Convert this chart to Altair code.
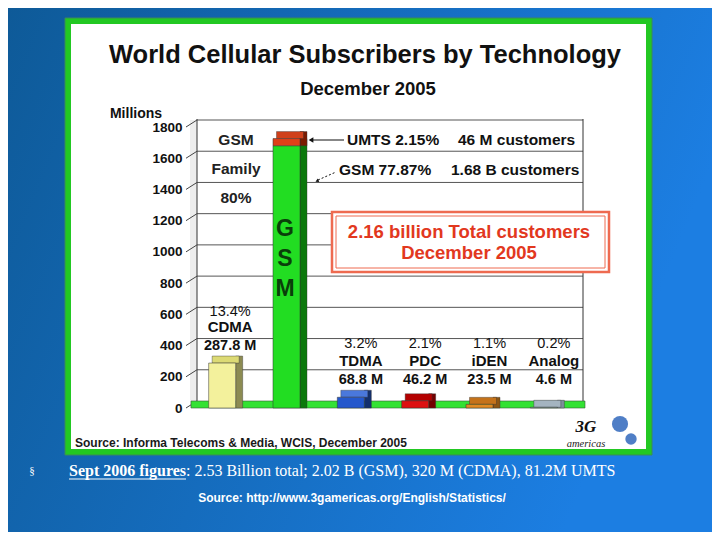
import altair as alt
import pandas as pd

# ---------------- data ----------------
techs = ["CDMA", "GSM", "TDMA", "PDC", "iDEN", "Analog"]
subs_m = [287.8, 1680.0, 68.8, 46.2, 23.5, 4.6]          # millions of subscribers
shares = ["13.4%", "77.87%", "3.2%", "2.1%", "1.1%", "0.2%"]
umts_m = 46.0
umts_share = "2.15%"
gsm_family_share = "80%"
y_ticks = [0, 200, 400, 600, 800, 1000, 1200, 1400, 1600, 1800]
sept_2006 = ": 2.53 Billion total; 2.02 B (GSM), 320 M (CDMA), 81.2M UMTS"

# ---------------- styles ----------------
front_col = ["#f3f19c", "#22dd22", "#2458cc", "#dd1111", "#e08a22", "#b4c2cc"]
side_col = ["#8c8b52", "#0b780b", "#13306e", "#720000", "#8c5512", "#7f8f9c"]
top_col = ["#dcda74", "#d0401a", "#4a78dc", "#b40000", "#c4721a", "#a4b4c0"]
umts_front, umts_side = "#e04018", "#7a1a00"

SANS = "Liberation Sans, Arial, sans-serif"
SERIF = "Liberation Serif, Times New Roman, serif"
OX, OY = 190, 127          # image position of the plot origin
W, H = 386, 281
D = 7                      # 3D depth in px

# ---------------- tables ----------------
seg_rows = []
top_rows = []
for i, t in enumerate(techs):
    seg_rows.append(dict(tech=t, start=0.0, end=subs_m[i], front=front_col[i], side=side_col[i]))
    top = subs_m[i]
    if t == "GSM":
        seg_rows.append(dict(tech=t, start=subs_m[i], end=subs_m[i] + umts_m, front=umts_front, side=umts_side))
        top = subs_m[i] + umts_m
    top_rows.append(dict(tech=t, top=top, topc=top_col[i]))
seg = pd.DataFrame(seg_rows)
tops = pd.DataFrame(top_rows)
lab = pd.DataFrame(dict(tech=techs, value=subs_m, share=shares,
                        vlabel=[f"{v} M" for v in subs_m]))
ticks = pd.DataFrame(dict(v=y_ticks))
total_b = (sum(subs_m) + umts_m) / 1000.0
one = pd.DataFrame({"k": [0]})

yscale = alt.Scale(domain=[0, 1800], nice=False)
yaxis = alt.Axis(values=y_ticks, format="d", ticks=False, domain=False, grid=False, title=None,
                 labelFont=SANS, labelFontSize=13.5, labelFontWeight="bold",
                 labelColor="#111", labelPadding=8, zindex=1)
xscale = alt.Scale(domain=techs, paddingInner=0.58, paddingOuter=0.29)


def X():
    return alt.X("tech:N", scale=xscale, axis=None)


def Y(f):
    return alt.Y(f"{f}:Q", scale=yscale, axis=yaxis)


def px(x):
    return alt.value(x - OX)


def py(y):
    return alt.value(y - OY)


def box(x0, x1, y0, y1, **kw):
    return alt.Chart(one).mark_rect(**kw).encode(x=px(x0), x2=px(x1), y=py(y0), y2=py(y1))


def T(text, x, y, size, color="#111", weight="bold", align="center", font=SANS, **kw):
    return alt.Chart(one).mark_text(text=text, fontSize=size, fontWeight=weight, color=color,
                                    align=align, baseline="middle", font=font, **kw
                                    ).encode(x=px(x), y=py(y))


layers = []
# slide background
grad = alt.LinearGradient(gradient="linear", x1=0, x2=1, y1=0, y2=0.3,
                          stops=[alt.GradientStop(offset=0, color="#0e5a98"),
                                 alt.GradientStop(offset=1, color="#1c7ee2")])
layers.append(box(8, 712, 8, 532, color=grad))
# green frame and white panel
layers.append(box(65, 652, 18, 455, color="#22c822", stroke="#3a8a5a", strokeWidth=1))
layers.append(box(71, 646, 24, 449, color="#ffffff"))

# titles
layers.append(T("World Cellular Subscribers by Technology", 365, 55, 25.5))
layers.append(T("December 2005", 368, 89, 18.5))
layers.append(T("Millions", 136, 114, 14))

# left wall (light) and floor
layers.append(box(190, 197, 120, 408, color="#ededed"))
# back wall gridlines
layers.append(alt.Chart(ticks).transform_filter("datum.v > 0").mark_rule(
    color="#555", strokeWidth=1, yOffset=-D).encode(x=alt.value(D), x2=alt.value(W + D), y=Y("v")))
# wall borders
layers.append(alt.Chart(one).mark_rule(color="#333", strokeWidth=1).encode(
    x=alt.value(D), y=alt.value(-D - 1), y2=alt.value(H - D)))
layers.append(alt.Chart(one).mark_rule(color="#333", strokeWidth=1).encode(
    x=alt.value(W + D), y=alt.value(-D - 1), y2=alt.value(H - D)))
# diagonal tick marks
layers.append(alt.Chart(ticks).mark_rule(color="#444", strokeWidth=1, y2Offset=-D).encode(
    x=alt.value(-4), x2=alt.value(D), y=Y("v"), y2=alt.Y2("v")))
# floor
layers.append(box(191, 585, 401, 408, color="#33e233", stroke="#3a5a3a", strokeWidth=0.6))

# 3D bars: side faces, top faces, front faces
layers.append(alt.Chart(seg).mark_bar(width=D, xOffset=13.5 + D / 2, yOffset=-D,
                                      stroke="#333", strokeWidth=0.4).encode(
    x=X(), y=Y("end"), y2=alt.Y2("start"), color=alt.Color("side:N", scale=None)))
layers.append(alt.Chart(tops).mark_bar(width=27, xOffset=D / 2, yOffset=-D, y2Offset=0,
                                       stroke="#333", strokeWidth=0.4).encode(
    x=X(), y=Y("top"), y2=alt.Y2("top"), color=alt.Color("topc:N", scale=None)))
layers.append(alt.Chart(seg).mark_bar(stroke="#333", strokeWidth=0.5).encode(
    x=X(), y=Y("end"), y2=alt.Y2("start"), color=alt.Color("front:N", scale=None)))

# G S M letters on the bar
for ch, yy in zip("GSM", [229, 259, 289]):
    layers.append(T(ch, 285, yy, 23, color="#0a3f0a"))

# GSM family note
layers.append(T("GSM", 236, 140, 15.5, color="#222"))
layers.append(T("Family", 236, 169, 15.5, color="#222"))
layers.append(T(gsm_family_share, 236, 198, 15.5, color="#222"))

# UMTS / GSM callouts
layers.append(alt.Chart(one).mark_rule(color="#111", strokeWidth=1.2).encode(
    x=px(311), x2=px(344), y=py(140)))
layers.append(alt.Chart(one).mark_point(shape="triangle-left", filled=True, color="#111",
                                        size=30, opacity=1).encode(x=px(311), y=py(140)))
layers.append(T(f"UMTS {umts_share}", 347, 140, 15.5, align="left"))
layers.append(T(f"{umts_m:.0f} M customers", 458, 140, 15.5, align="left"))
layers.append(alt.Chart(one).mark_rule(color="#111", strokeWidth=1, strokeDash=[2, 2]).encode(
    x=px(318), x2=px(336), y=py(180), y2=py(172)))
layers.append(alt.Chart(one).mark_point(shape="triangle-left", filled=True, color="#111",
                                        size=14, opacity=1, angle=335).encode(x=px(317), y=py(181)))
layers.append(T(f"GSM {shares[1]}", 339, 170, 15.5, align="left"))
layers.append(T(f"{subs_m[1] / 1000:.2f} B customers", 451, 170, 15.5, align="left"))

# total box
layers.append(box(332, 609, 212, 272, color="#ffffff", stroke="#ee6a50", strokeWidth=2.5))
layers.append(box(336, 605, 216, 268, color="#ffffff", stroke="#ee6a50", strokeWidth=1))
layers.append(T(f"{total_b:.2f} billion Total customers", 469, 232, 18.5, color="#e2381e"))
layers.append(T("December 2005", 469, 253, 18.5, color="#e2381e"))

# CDMA labels (above its bar)
cdma = alt.Chart(lab).transform_filter("datum.tech == 'CDMA'")
layers.append(cdma.mark_text(dx=8, dy=-51, fontSize=14.5, font=SANS, color="#111").encode(
    x=X(), y=Y("value"), text="share:N"))
layers.append(cdma.mark_text(dx=8, dy=-36, fontSize=15, font=SANS, fontWeight="bold", color="#111").encode(
    x=X(), y=Y("value"), text="tech:N"))
layers.append(cdma.mark_text(dx=8, dy=-17, fontSize=14.5, font=SANS, fontWeight="bold", color="#111").encode(
    x=X(), y=Y("value"), text="vlabel:N"))

# small technologies labels
small = alt.Chart(lab).transform_filter("datum.tech != 'CDMA' && datum.tech != 'GSM'")
layers.append(small.mark_text(dx=10, fontSize=14.5, font=SANS, color="#111").encode(
    x=X(), y=py(344), text="share:N"))
layers.append(small.mark_text(dx=10, fontSize=15, font=SANS, fontWeight="bold", color="#111").encode(
    x=X(), y=py(361), text="tech:N"))
layers.append(small.mark_text(dx=10, fontSize=14.5, font=SANS, fontWeight="bold", color="#111").encode(
    x=X(), y=py(380), text="vlabel:N"))

# source inside the panel
layers.append(T("Source: Informa Telecoms & Media, WCIS, December 2005", 75, 443, 12,
                color="#1a1a1a", align="left"))

# 3G americas logo
layers.append(alt.Chart(one).mark_point(shape="circle", filled=True, color="#3c70c0",
                                        size=260, opacity=0.9).encode(x=px(620), y=py(424)))
layers.append(alt.Chart(one).mark_point(shape="circle", filled=True, color="#3c70c0",
                                        size=130, opacity=0.9).encode(x=px(631), y=py(439)))
layers.append(T("3G", 586, 427, 17, color="#111", font=SERIF, fontStyle="italic"))
layers.append(T("americas", 586, 444, 10.5, color="#222", weight="normal", font=SERIF,
                fontStyle="italic"))

# slide text below the panel
layers.append(T("§", 32, 471, 11, color="#ffffff", weight="normal", font=SERIF))
layers.append(T("Sept 2006 figures", 69, 471, 16, color="#ffffff", align="left", font=SERIF))
layers.append(alt.Chart(one).mark_rule(color="#ffffff", strokeWidth=1.2).encode(
    x=px(69), x2=px(186), y=py(479)))
layers.append(T(sept_2006, 186, 471, 16, color="#ffffff", weight="normal", align="left", font=SERIF))
layers.append(T("Source: http://www.3gamericas.org/English/Statistics/", 352, 498, 12,
                color="#ffffff"))

chart = alt.layer(*layers).properties(
    width=W, height=H,
    autosize=alt.AutoSizeParams(type="none"),
    padding={"left": OX - 8, "top": OY - 8, "right": 704 - (OX - 8) - W, "bottom": 524 - (OY - 8) - H},
    background="#1565b0",
).configure_view(stroke=None)

chart.save("out.html", embed_options={"renderer": "svg", "actions": False})
